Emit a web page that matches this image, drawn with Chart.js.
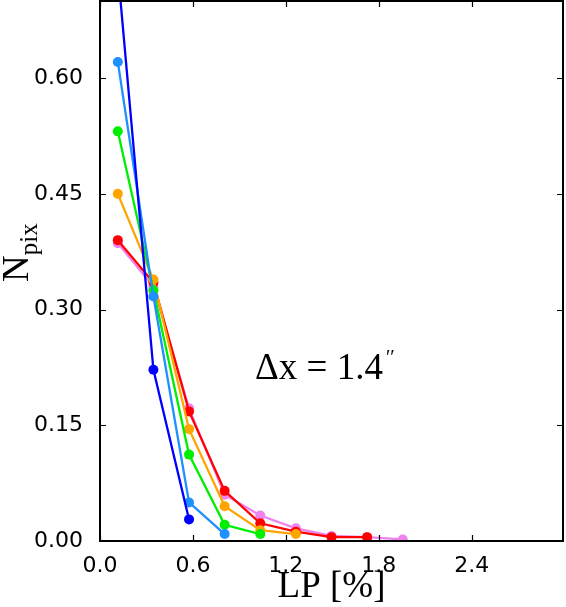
<!DOCTYPE html>
<html>
<head>
<meta charset="utf-8">
<script src="https://cdn.jsdelivr.net/npm/chart.js@4.4.1/dist/chart.umd.min.js"></script>
<style>
  html, body { margin: 0; padding: 0; background: #fff; }
</style>
</head>
<body>
<canvas id="chart" width="566" height="607"></canvas>
<script>
// LP [%] positions of the measurements
const lp = [0.115, 0.345, 0.575, 0.805, 1.035, 1.265, 1.495, 1.725, 1.955];

// N_pix per curve (first one leaves the top of the plot)
const nBlue       = [0.74, 0.222, 0.028];
const nDodger     = [0.621, 0.317, 0.050, 0.009];
const nGreen      = [0.531, 0.325, 0.112, 0.021, 0.009];
const nOrange     = [0.450, 0.339, 0.145, 0.045, 0.014, 0.009];
const nRed        = [0.390, 0.335, 0.168, 0.065, 0.023, 0.012, 0.005, 0.005];
const nViolet     = [0.386, 0.330, 0.172, 0.060, 0.033, 0.0165, 0.0065, 0.005, 0.002];

const xTicks = [0.0, 0.6, 1.2, 1.8, 2.4];
const yTicks = [0.00, 0.15, 0.30, 0.45, 0.60];

function pts(vals) {
  return vals.map((v, i) => ({ x: lp[i], y: v }));
}

function serie(vals, color) {
  return {
    data: pts(vals),
    borderColor: color,
    backgroundColor: color,
    borderWidth: 2.3,
    pointRadius: 5,
    pointBorderWidth: 0,
    pointHoverRadius: 5,
    tension: 0
  };
}

// frame, inward ticks, axis titles and the annotation
const decor = {
  id: 'decor',
  afterDatasetsDraw(chart) {
    const ctx = chart.ctx;
    const a = chart.chartArea;
    const xs = chart.scales.x, ys = chart.scales.y;
    ctx.save();
    ctx.strokeStyle = '#000';
    ctx.lineWidth = 1.2;
    const tl = 6;
    xTicks.forEach(v => {
      const px = Math.round(xs.getPixelForValue(v)) + 0.5;
      ctx.beginPath();
      ctx.moveTo(px, a.bottom); ctx.lineTo(px, a.bottom - tl);
      ctx.moveTo(px, a.top); ctx.lineTo(px, a.top + tl);
      ctx.stroke();
    });
    yTicks.forEach(v => {
      const py = Math.round(ys.getPixelForValue(v)) + 0.5;
      ctx.beginPath();
      ctx.moveTo(a.left, py); ctx.lineTo(a.left + tl, py);
      ctx.moveTo(a.right, py); ctx.lineTo(a.right - tl, py);
      ctx.stroke();
    });
    ctx.lineWidth = 2;
    ctx.strokeRect(a.left, a.top, a.right - a.left, a.bottom - a.top);

    ctx.fillStyle = '#000';
    ctx.textBaseline = 'alphabetic';

    // x title
    ctx.font = '37px "Liberation Serif"';
    ctx.textAlign = 'center';
    ctx.fillText('LP [%]', (a.left + a.right) / 2, 597);

    // y title N_pix
    ctx.save();
    ctx.translate(28, 282);
    ctx.rotate(-Math.PI / 2);
    ctx.textAlign = 'left';
    ctx.font = '37px "Liberation Serif"';
    ctx.fillText('N', 0, 0);
    const nw = ctx.measureText('N').width;
    ctx.font = '25px "Liberation Serif"';
    ctx.fillText('pix', nw, 9);
    ctx.restore();

    // annotation
    ctx.textAlign = 'left';
    ctx.font = '37px "Liberation Serif"';
    const main = '\u0394x = 1.4';
    ctx.fillText(main, 255, 379);
    const mw = ctx.measureText(main).width;
    ctx.font = '20px "Liberation Serif"';
    ctx.fillText('\u2032\u2032', 255 + mw + 3, 364);
    ctx.restore();
  }
};

new Chart(document.getElementById('chart'), {
  type: 'line',
  data: {
    datasets: [
      serie(nBlue, '#0000ff'),
      serie(nDodger, '#1e90ff'),
      serie(nGreen, '#00ee00'),
      serie(nOrange, '#ffa500'),
      serie(nRed, '#ff0000'),
      serie(nViolet, '#ee82ee')
    ]
  },
  options: {
    responsive: false,
    animation: false,
    devicePixelRatio: 1,
    layout: { autoPadding: false, padding: { top: 1, right: 3, left: 0, bottom: 0 } },
    plugins: { legend: { display: false }, tooltip: { enabled: false } },
    scales: {
      x: {
        type: 'linear',
        min: 0,
        max: 2.99,
        afterBuildTicks: s => { s.ticks = xTicks.map(v => ({ value: v })); },
        afterFit: s => { s.height = 66; s.paddingLeft = 0; s.paddingRight = 0; },
        grid: { display: false },
        border: { display: false },
        ticks: {
          padding: 4,
          color: '#000',
          font: { family: 'DejaVu Sans', size: 22 },
          maxRotation: 0,
          callback: v => v.toFixed(1)
        }
      },
      y: {
        type: 'linear',
        min: 0,
        max: 0.70,
        afterBuildTicks: s => { s.ticks = yTicks.map(v => ({ value: v })); },
        afterFit: s => { s.width = 100; s.paddingTop = 0; s.paddingBottom = 0; },
        grid: { display: false },
        border: { display: false },
        ticks: {
          padding: 9,
          color: '#000',
          font: { family: 'DejaVu Sans', size: 22 },
          callback: v => v.toFixed(2)
        }
      }
    }
  },
  plugins: [decor]
});
</script>
</body>
</html>
